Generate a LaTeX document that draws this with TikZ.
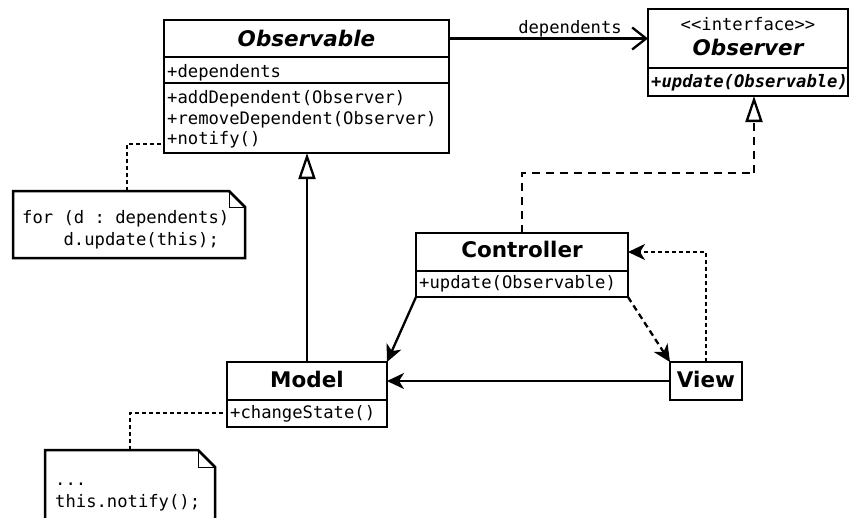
\documentclass[tikz,border=0pt]{standalone}
\usepackage{fontspec}
\setmainfont{DejaVu Sans}
\setmonofont{DejaVu Sans Mono}
\usetikzlibrary{arrows.meta}

\newcommand\memberfont{\fontsize{17.2}{20}\selectfont\ttfamily}
\newcommand\titlefont{\fontsize{21.5}{24}\selectfont\bfseries}

\tikzset{
  compart/.style={draw, line width=2.6pt, inner sep=0pt, outer sep=0pt,
                  anchor=north west, fill=white},
  member/.style={inner sep=0pt, anchor=base west, font=\memberfont},
  ctitle/.style={inner sep=0pt, anchor=base, font=\titlefont},
  notebox/.style={draw, line width=2.5pt, fill=white, line join=miter},
  notefold/.style={draw, line width=1pt},
  conn/.style={line width=2.3pt},
  assoc/.style={conn, -{Stealth[length=17pt, width=16pt, inset=5pt]}},
  generalize/.style={conn, -{Triangle[open, length=26pt, width=17pt, fill=white]}},
  navig/.style={conn, -{Straight Barb[length=14pt, width=22pt, line width=2.3pt]}},
  realizeline/.style={dash pattern=on 8pt off 6pt},
  depline/.style={dash pattern=on 6pt off 4pt},
  anchorline/.style={dash pattern=on 4pt off 3pt},
}

\begin{document}
\begin{tikzpicture}[x=1pt, y=-1pt]
\useasboundingbox (0,0) rectangle (851,517);

% ---------- Observable ----------
\node[compart, minimum width=285pt, minimum height=37pt] (obsT) at (164,20) {};
\node[compart, minimum width=285pt, minimum height=26pt] (obsA) at (164,57) {};
\node[compart, minimum width=285pt, minimum height=70pt] (obsM) at (164,83) {};
\node[ctitle] (obsName) at (306.5,46) {\itshape Observable};
\node[member] (obsA1) at (167,77) {+dependents};
\node[member] (obsM1) at (167,103) {+addDependent(Observer)};
\node[member] (obsM2) at (167,124) {+removeDependent(Observer)};
\node[member] (obsM3) at (167,144) {+notify()};
\coordinate (obsNotify) at (164,144);

% ---------- Observer ----------
\node[compart, minimum width=200pt, minimum height=59pt] (obsvT) at (648,9) {};
\node[compart, minimum width=200pt, minimum height=28pt] (obsvM) at (648,68) {};
\node[inner sep=0pt, anchor=base, font=\memberfont] (obsvSt) at (748,30) {<<interface>>};
\node[ctitle] (obsvName) at (748,55) {\itshape Observer};
\node[member] (obsvM1) at (651,87) {\bfseries\itshape +update(Observable)};

% ---------- Controller ----------
\node[compart, minimum width=212pt, minimum height=38pt] (ctlT) at (416,233) {};
\node[compart, minimum width=212pt, minimum height=26pt] (ctlM) at (416,271) {};
\node[ctitle] (ctlName) at (522,257) {Controller};
\node[member] (ctlM1) at (419,288) {+update(Observable)};

% ---------- Model ----------
\node[compart, minimum width=160pt, minimum height=38pt] (mdlT) at (227,362) {};
\node[compart, minimum width=160pt, minimum height=27pt] (mdlM) at (227,400) {};
\node[ctitle] (mdlName) at (307,387) {Model};
\node[member] (mdlM1) at (230,418) {+changeState()};
\coordinate (mdlChange) at (227,413);

% ---------- View ----------
\node[compart, minimum width=72pt, minimum height=38pt] (view) at (670,362) {};
\node[ctitle] (viewName) at (706,387) {View};

% ---------- Notes ----------
\path[notebox] (13,191) -- (229,191) -- (245,207) -- (245,258) -- (13,258) -- cycle;
\path[notefold] (229,191) -- (229,207) -- (245,207);
\coordinate (note1top) at (127,191);
\node[member] (note1a) at (22,223) {for (d : dependents)};
\node[member] (note1b) at (22,245) {\phantom{for }d.update(this);};

\path[notebox] (45,450) -- (198,450) -- (215,467) -- (215,530) -- (45,530) -- cycle;
\path[notefold] (198,450) -- (198,467) -- (215,467);
\coordinate (note2top) at (130,450);
\node[member] (note2a) at (55,485) {...};
\node[member] (note2b) at (55,507) {this.notify();};

% ---------- Connectors ----------
% note anchors
\draw[conn, anchorline] (note1top) |- (obsNotify);
\draw[conn, anchorline] (note2top) |- (mdlChange);

% association Observable -> Observer
\draw[navig] (obsT.east) -- (obsvT.west);
\node[inner sep=0pt, anchor=base east, font=\memberfont] (depLabel) at (622,33) {dependents};

% generalization Model -> Observable
\draw[generalize] (mdlT.north) -- (mdlT.north |- obsM.south);

% realization Controller -> Observer
\coordinate (realBend) at (754,173);
\draw[conn, realizeline] (ctlT.north) |- (realBend);
\draw[generalize, realizeline] (realBend) -- (obsvM.south -| realBend);

% MVC interactions
\draw[assoc] (ctlM.south west) -- (mdlT.north east);
\draw[assoc] (view.west) -- (mdlT.east);
\draw[assoc, depline] (ctlM.south east) -- (view.north west);
\draw[assoc, anchorline] (view.north) |- (ctlT.east);
\end{tikzpicture}
\end{document}
